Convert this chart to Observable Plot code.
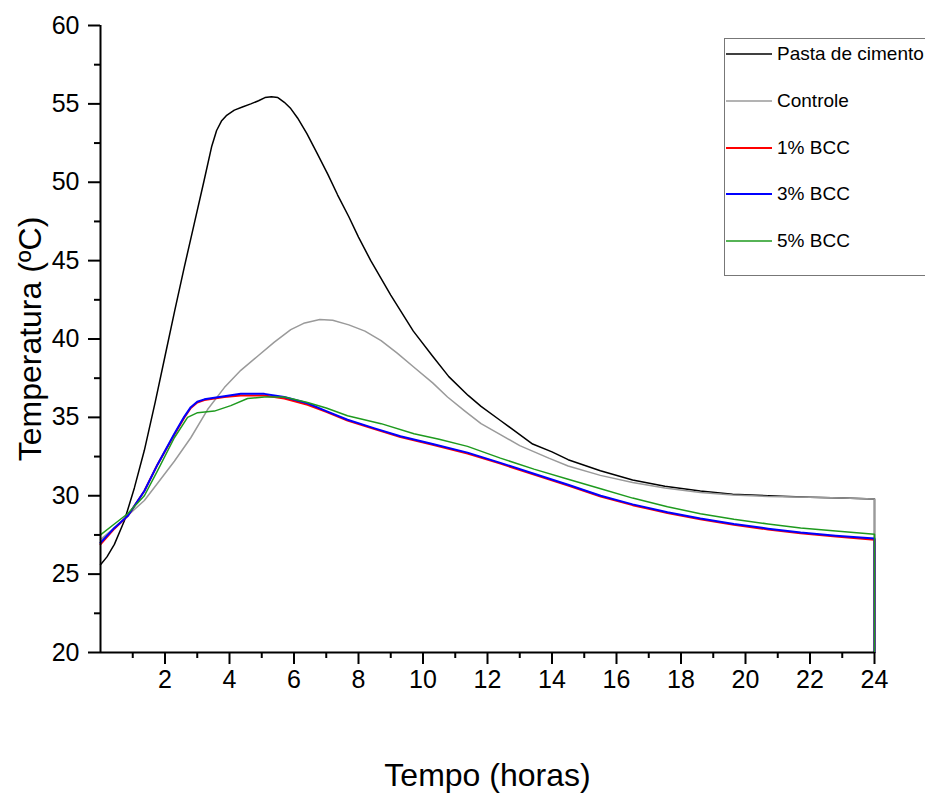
<!DOCTYPE html>
<html>
<head>
<meta charset="utf-8">
<script src="https://cdn.jsdelivr.net/npm/d3@7"></script>
<script src="https://cdn.jsdelivr.net/npm/@observablehq/plot@0.6"></script>
<style>
  html, body { margin: 0; padding: 0; background: #fff; overflow: hidden; }
  #wrap { position: relative; width: 925px; height: 795px; font-family: "Liberation Sans", Arial, sans-serif; }
  #legend { position: absolute; left: 724px; top: 38px; width: 215px; height: 238px; border: 1px solid #777; background: #fff; box-sizing: border-box; }
  .row { position: absolute; left: 1px; height: 22px; display: flex; align-items: center; font-size: 19px; color: #000; white-space: nowrap; }
  .row svg { margin-right: 5px; }
</style>
</head>
<body>
<div id="wrap"><div id="chart"></div><div id="legend"></div></div>
<script>
// ---- data ----
const seriesNames = ["Pasta de cimento", "Controle", "1% BCC", "3% BCC", "5% BCC"];
const seriesColors = ["#000000", "#9a9a9a", "#ff0000", "#0000ff", "#1e9a1e"];
const seriesWidths = [1.5, 1.5, 2, 2, 1.5];

const pastaT = [0, 0.2, 0.43, 0.74, 1.05, 1.36, 1.7, 2.0, 2.3, 2.6, 2.9, 3.2, 3.45, 3.6, 3.75, 3.9, 4.15, 4.4, 4.66, 4.9, 5.1, 5.3, 5.5, 5.7, 5.9, 6.11, 6.4, 6.73, 7.05, 7.35, 7.7, 8.0, 8.38, 9.0, 9.7, 10.3, 10.8, 11.4, 11.8, 12.4, 12.8, 13.4, 14.0, 14.5, 15.5, 16.5, 17.5, 18.6, 19.6, 20.7, 22.0, 23.0, 24.0, 24.0];
const pastaV = [25.6, 26.1, 26.9, 28.4, 30.5, 32.9, 36.0, 38.9, 41.8, 44.6, 47.3, 50.0, 52.3, 53.3, 53.9, 54.25, 54.6, 54.8, 55.0, 55.2, 55.4, 55.45, 55.4, 55.1, 54.7, 54.1, 53.1, 51.8, 50.5, 49.2, 47.8, 46.5, 45.0, 42.8, 40.5, 38.9, 37.6, 36.4, 35.7, 34.8, 34.2, 33.3, 32.8, 32.3, 31.6, 31.0, 30.6, 30.3, 30.1, 30.0, 29.9, 29.85, 29.8, 20];

const controleT = [0, 0.4, 0.85, 1.36, 1.77, 2.29, 2.8, 3.32, 3.84, 4.35, 4.87, 5.39, 5.9, 6.3, 6.8, 7.2, 7.7, 8.2, 8.7, 9.2, 9.72, 10.3, 10.76, 11.3, 11.8, 12.4, 13.0, 13.9, 14.5, 15.5, 16.5, 17.5, 18.6, 19.6, 20.7, 22.0, 23.0, 24.0, 24.0];
const controleV = [27.2, 27.9, 28.75, 29.7, 30.8, 32.2, 33.7, 35.5, 36.9, 38.0, 38.9, 39.8, 40.6, 41.0, 41.25, 41.2, 40.9, 40.5, 39.9, 39.1, 38.2, 37.2, 36.3, 35.4, 34.6, 33.9, 33.2, 32.4, 31.9, 31.3, 30.85, 30.5, 30.2, 30.05, 29.95, 29.9, 29.85, 29.8, 20];

const bcc1T = [0, 0.43, 0.84, 1.36, 1.77, 2.29, 2.6, 2.8, 3.0, 3.22, 3.84, 4.35, 5.08, 5.7, 6.42, 7.0, 7.66, 8.5, 9.3, 10.3, 11.38, 12.4, 13.44, 14.5, 15.51, 16.5, 17.58, 18.6, 19.64, 20.7, 21.71, 22.8, 24.0, 24.0];
const bcc1V = [26.9, 27.9, 28.7, 30.3, 32.0, 33.9, 35.0, 35.6, 35.95, 36.1, 36.3, 36.4, 36.4, 36.2, 35.8, 35.35, 34.8, 34.25, 33.75, 33.25, 32.7, 32.05, 31.35, 30.65, 29.95, 29.4, 28.9, 28.5, 28.15, 27.85, 27.6, 27.4, 27.2, 20];

const bcc3T = [0, 0.43, 0.84, 1.36, 1.77, 2.29, 2.6, 2.8, 3.0, 3.22, 3.84, 4.35, 5.08, 5.7, 6.42, 7.0, 7.66, 8.5, 9.3, 10.3, 11.38, 12.4, 13.44, 14.5, 15.51, 16.5, 17.58, 18.6, 19.64, 20.7, 21.71, 22.8, 24.0, 24.0];
const bcc3V = [27.0, 27.95, 28.7, 30.3, 32.0, 33.95, 35.05, 35.65, 36.0, 36.15, 36.35, 36.5, 36.5, 36.3, 35.9, 35.4, 34.85, 34.3, 33.8, 33.3, 32.75, 32.1, 31.4, 30.7, 30.0, 29.45, 28.95, 28.55, 28.2, 27.9, 27.65, 27.45, 27.28, 20];

const bcc5T = [0, 0.43, 0.84, 1.36, 1.77, 2.29, 2.7, 3.01, 3.53, 4.04, 4.56, 5.08, 5.7, 6.42, 7.0, 7.66, 8.7, 9.72, 10.5, 11.38, 12.4, 13.44, 14.5, 15.51, 16.5, 17.58, 18.6, 19.64, 20.7, 21.71, 22.8, 24.0, 24.0];
const bcc5V = [27.5, 28.2, 28.85, 30.0, 31.6, 33.7, 35.0, 35.3, 35.4, 35.75, 36.2, 36.3, 36.3, 35.95, 35.6, 35.1, 34.6, 33.95, 33.6, 33.15, 32.4, 31.7, 31.05, 30.45, 29.85, 29.3, 28.85, 28.5, 28.2, 27.95, 27.75, 27.55, 20];

const xMajorTicks = [2, 4, 6, 8, 10, 12, 14, 16, 18, 20, 22, 24];
const xMinorTicks = [1, 3, 5, 7, 9, 11, 13, 15, 17, 19, 21, 23];
const yMajorTicks = [20, 25, 30, 35, 40, 45, 50, 55, 60];
const yMinorTicks = [22.5, 27.5, 32.5, 37.5, 42.5, 47.5, 52.5, 57.5];
const xTitle = "Tempo (horas)";
const yTitle = "Temperatura (ºC)";

// ---- build table ----
const seriesT = [pastaT, controleT, bcc1T, bcc3T, bcc5T];
const seriesV = [pastaV, controleV, bcc1V, bcc3V, bcc5V];
const lineMarks = seriesNames.map((name, k) => {
  const rows = seriesT[k].map((t, i) => ({series: name, t, v: seriesV[k][i]}));
  return Plot.line(rows, {x: "t", y: "v", stroke: seriesColors[k], strokeWidth: seriesWidths[k]});
});

const font = "Liberation Sans, Arial, sans-serif";
const chart = Plot.plot({
  width: 925,
  height: 795,
  marginLeft: 100,
  marginRight: 51,
  marginTop: 25,
  marginBottom: 143,
  style: {fontFamily: font, color: "#000", background: "#fff", overflow: "visible"},
  x: {domain: [0, 24]},
  y: {domain: [20, 60]},
  marks: [
    ...lineMarks,
    Plot.axisX({ticks: xMajorTicks, tickSize: 12, tickPadding: 6, fontSize: 25, label: null, strokeWidth: 2, stroke: "#000"}),
    Plot.axisX({ticks: xMinorTicks, tickSize: 6, text: null, label: null, strokeWidth: 2, stroke: "#000"}),
    Plot.axisY({ticks: yMajorTicks, tickSize: 12, tickPadding: 9, fontSize: 25, label: null, strokeWidth: 2, stroke: "#000"}),
    Plot.axisY({ticks: yMinorTicks, tickSize: 6, text: null, label: null, strokeWidth: 2, stroke: "#000"}),
    Plot.ruleX([0], {strokeWidth: 2, stroke: "#000"}),
    Plot.ruleY([20], {strokeWidth: 2, stroke: "#000"}),
    Plot.text([yTitle], {frameAnchor: "left", textAnchor: "middle", dx: -70, rotate: -90, fontSize: 32, fill: "#000"}),
    Plot.text([xTitle], {frameAnchor: "bottom", textAnchor: "middle", dy: 133, fontSize: 32, fill: "#000"})
  ]
});
document.getElementById("chart").appendChild(chart);

// ---- legend ----
const legend = document.getElementById("legend");
const rowCenters = [15, 62, 109, 155, 202];
seriesNames.forEach((name, k) => {
  const row = document.createElement("div");
  row.className = "row";
  row.style.top = (rowCenters[k] - 11) + "px";
  const ns = "http://www.w3.org/2000/svg";
  const sw = document.createElementNS(ns, "svg");
  sw.setAttribute("width", 46); sw.setAttribute("height", 22);
  const ln = document.createElementNS(ns, "line");
  ln.setAttribute("x1", 0); ln.setAttribute("x2", 46);
  ln.setAttribute("y1", 11); ln.setAttribute("y2", 11);
  ln.setAttribute("stroke", seriesColors[k]);
  ln.setAttribute("stroke-width", seriesWidths[k]);
  sw.appendChild(ln);
  row.appendChild(sw);
  const span = document.createElement("span");
  span.textContent = name;
  row.appendChild(span);
  legend.appendChild(row);
});
</script>
</body>
</html>
